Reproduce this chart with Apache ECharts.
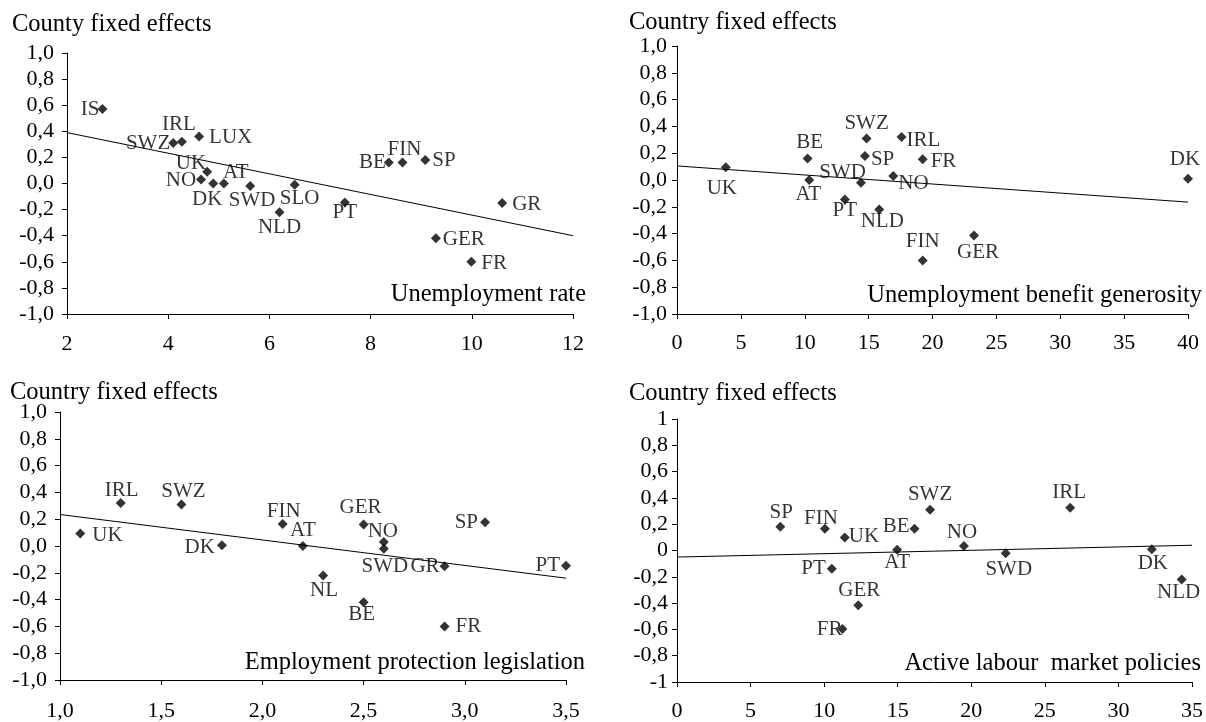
<!DOCTYPE html>
<html><head><meta charset="utf-8">
<script src="https://cdn.jsdelivr.net/npm/echarts@6/dist/echarts.min.js"></script>
<style>html,body{margin:0;padding:0;background:#fff}#c{width:1206px;height:722px}</style>
</head><body><div id="c"></div>
<script>
// ---- Panel 1: Unemployment rate ----
const p1Countries = ['IS','SWZ','IRL','LUX','UK','NO','DK','AT','SWD','NLD','SLO','PT','BE','FIN','SP','GR','GER','FR'];
const p1X = [2.7, 4.1, 4.27, 4.61, 4.77, 4.65, 4.89, 5.1, 5.62, 6.2, 6.5, 7.49, 8.36, 8.63, 9.08, 10.6, 9.29, 9.99];
const p1Y = [0.57, 0.31, 0.32, 0.36, 0.09, 0.03, 0.0, 0.0, -0.02, -0.22, -0.01, -0.145, 0.16, 0.16, 0.18, -0.15, -0.42, -0.60];
const p1TrendX = [2, 12];
const p1TrendY = [0.39, -0.40];
const p1XTicks = ['2','4','6','8','10','12'];

// ---- Panel 2: Unemployment benefit generosity ----
const p2Countries = ['UK','BE','AT','PT','SWZ','SP','SWD','NLD','NO','IRL','FR','FIN','GER','DK'];
const p2X = [3.82, 10.22, 10.35, 13.14, 14.84, 14.71, 14.4, 15.83, 16.93, 17.58, 19.23, 19.23, 23.25, 40.0];
const p2Y = [0.095, 0.16, 0.0, -0.145, 0.31, 0.18, -0.02, -0.22, 0.03, 0.32, 0.155, -0.60, -0.415, 0.01];
const p2TrendX = [0, 40];
const p2TrendY = [0.105, -0.165];
const p2XTicks = ['0','5','10','15','20','25','30','35','40'];

// ---- Panel 3: Employment protection legislation ----
const p3Countries = ['UK','IRL','SWZ','DK','FIN','AT','NL','GER','BE','NO','SWD','GR','FR','SP','PT'];
const p3X = [1.1, 1.3, 1.6, 1.8, 2.1, 2.2, 2.3, 2.5, 2.5, 2.6, 2.6, 2.9, 2.9, 3.1, 3.5];
const p3Y = [0.094, 0.32, 0.31, 0.005, 0.165, 0.0, -0.22, 0.16, -0.42, 0.03, -0.02, -0.152, -0.60, 0.177, -0.148];
const p3TrendX = [1.0, 3.5];
const p3TrendY = [0.235, -0.24];
const p3XTicks = ['1,0','1,5','2,0','2,5','3,0','3,5'];

// ---- Panel 4: Active labour market policies ----
const p4Countries = ['SP','FIN','UK','PT','GER','FR','AT','BE','SWZ','NO','SWD','IRL','DK','NLD'];
const p4X = [7.02, 10.05, 11.4, 10.52, 12.32, 11.24, 14.96, 16.14, 17.2, 19.5, 22.34, 26.72, 32.27, 34.3];
const p4Y = [0.18, 0.165, 0.099, -0.139, -0.417, -0.597, 0.005, 0.165, 0.31, 0.035, -0.02, 0.325, 0.01, -0.22];
const p4TrendX = [0, 35];
const p4TrendY = [-0.05, 0.04];
const p4XTicks = ['0','5','10','15','20','25','30','35'];

// ---- y tick labels ----
const yTicksA = ['-1,0','-0,8','-0,6','-0,4','-0,2','0,0','0,2','0,4','0,6','0,8','1,0'];
const yTicksB = ['-1','-0,8','-0,6','-0,4','-0,2','0','0,2','0,4','0,6','0,8','1'];

// ---- label placement (style, not data): [side, dx, dy] ----
const lab1 = {IS:['l',2,0], SWZ:['l',2,0], IRL:['t',-3,0], LUX:['r',2,1], UK:['l',4,-8], NO:['l',0,1],
  DK:['b',-6,-2], AT:['t',12,6], SWD:['b',2,-3], NLD:['b',0,-2], SLO:['b',5,-4], PT:['b',0,-7],
  BE:['l',2,0], FIN:['t',2,4], SP:['r',-1,0], GR:['r',2,1], GER:['r',-1,1], FR:['r',2,2]};
const lab2 = {UK:['b',-4,4], BE:['t',2,1], AT:['b',-1,-3], PT:['b',0,-6], SWZ:['t',0,3], SP:['r',-2,4],
  SWD:['l',10,-10], NLD:['b',3,-5], NO:['r',-3,8], IRL:['r',-3,3], FR:['r',0,2], FIN:['t',0,-1],
  GER:['b',4,-1], DK:['t',-3,-2]};
const lab3 = {UK:['r',4,2], IRL:['t',1,5], SWZ:['t',2,5], DK:['l',-2,2], FIN:['t',1,5], AT:['t',0,2],
  NL:['b',1,-2], GER:['t',-3,0], BE:['b',-2,-5], NO:['t',-1,7], SWD:['b',1,0], GR:['l',0,0],
  FR:['r',3,0], SP:['l',-2,0], PT:['l',-1,0]};
const lab4 = {SP:['t',1,3], FIN:['t',-4,7], UK:['r',-4,-1], PT:['l',-1,0], GER:['t',1,3], FR:['l',5,0],
  AT:['b',0,-5], BE:['l',0,-2], SWZ:['t',0,2], NO:['t',-2,4], SWD:['b',3,-1], IRL:['t',-1,2],
  DK:['b',1,-3], NLD:['b',-3,-4]};

const FONT = 'Liberation Serif';
const sideName = {l:'left', r:'right', t:'top', b:'bottom'};
const sideDist = {l:0, r:3, t:2, b:2};

function scatterSeries(idx, names, xs, ys, lab) {
  return {
    type: 'scatter', xAxisIndex: idx, yAxisIndex: idx,
    symbol: 'diamond', symbolSize: 10,
    itemStyle: {color: '#000'},
    label: {show: true, formatter: '{b}', color: '#000', fontFamily: FONT, fontSize: 21},
    emphasis: {disabled: true},
    data: names.map((n, i) => {
      const s = lab[n] || ['r', 0, 0];
      return {name: n, value: [xs[i], ys[i]],
        label: {position: sideName[s[0]], distance: sideDist[s[0]], offset: [s[1], s[2]]}};
    })
  };
}
function trendSeries(idx, xs, ys) {
  return {type: 'line', xAxisIndex: idx, yAxisIndex: idx, symbol: 'none', silent: true,
    lineStyle: {color: '#000', width: 1}, data: xs.map((x, i) => [x, ys[i]])};
}
function xAxisDef(idx, min, max, interval, ticks, margin) {
  return {gridIndex: idx, type: 'value', min: min, max: max, interval: interval,
    axisLine: {show: true, onZero: false, lineStyle: {color: '#000', width: 1}},
    axisTick: {show: true, length: 5, lineStyle: {color: '#000'}},
    splitLine: {show: false},
    axisLabel: {color: '#000', fontFamily: FONT, fontSize: 22, margin: margin,
      formatter: v => ticks[Math.round((v - min) / interval)]}};
}
function yAxisDef(idx, ticks, margin) {
  return {gridIndex: idx, type: 'value', min: -1, max: 1, interval: 0.2,
    axisLine: {show: true, onZero: false, lineStyle: {color: '#000', width: 1}},
    axisTick: {show: true, length: 5, lineStyle: {color: '#000'}},
    splitLine: {show: false},
    axisLabel: {color: '#000', fontFamily: FONT, fontSize: 22, margin: margin,
      formatter: v => ticks[Math.round((v + 1) / 0.2)]}};
}
function txt(text, pos) {
  return Object.assign({text: text, padding: 0, itemGap: 0,
    textStyle: {color: '#000', fontFamily: FONT, fontSize: 24.5, fontWeight: 'normal'}}, pos);
}

const chart = echarts.init(document.getElementById('c'));
chart.setOption({
  animation: false,
  backgroundColor: '#fff',
  title: [
    txt('County fixed effects', {left: 12, top: 12}),
    txt('Country fixed effects', {left: 629, top: 10}),
    txt('Country fixed effects', {left: 10, top: 380}),
    txt('Country fixed effects', {left: 629, top: 381}),
    txt('Unemployment rate', {right: 1206 - 586, top: 282}),
    txt('Unemployment benefit generosity', {right: 4, top: 283}),
    txt('Employment protection legislation', {right: 1206 - 585, top: 650}),
    txt('Active labour  market policies', {right: 5, top: 651})
  ],
  grid: [
    {left: 67, top: 53, width: 506, height: 261},
    {left: 677, top: 46, width: 511, height: 268},
    {left: 60, top: 412, width: 506, height: 271},
    {left: 677, top: 419, width: 517, height: 264}
  ],
  xAxis: [
    xAxisDef(0, 2, 12, 2, p1XTicks, 19),
    xAxisDef(1, 0, 40, 5, p2XTicks, 18),
    xAxisDef(2, 1, 3.5, 0.5, p3XTicks, 20),
    xAxisDef(3, 0, 35, 5, p4XTicks, 18)
  ],
  yAxis: [
    yAxisDef(0, yTicksA, 13),
    yAxisDef(1, yTicksA, 10),
    yAxisDef(2, yTicksA, 13),
    yAxisDef(3, yTicksB, 9)
  ],
  series: [
    trendSeries(0, p1TrendX, p1TrendY), scatterSeries(0, p1Countries, p1X, p1Y, lab1),
    trendSeries(1, p2TrendX, p2TrendY), scatterSeries(1, p2Countries, p2X, p2Y, lab2),
    trendSeries(2, p3TrendX, p3TrendY), scatterSeries(2, p3Countries, p3X, p3Y, lab3),
    trendSeries(3, p4TrendX, p4TrendY), scatterSeries(3, p4Countries, p4X, p4Y, lab4)
  ]
});
</script>
</body></html>
